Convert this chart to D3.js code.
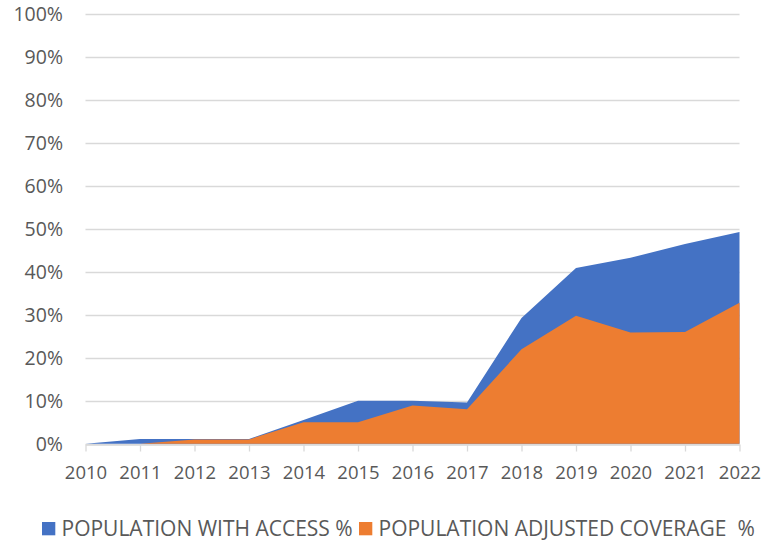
<!DOCTYPE html>
<html>
<head>
<meta charset="utf-8">
<script src="https://cdn.jsdelivr.net/npm/d3@7"></script>
<style>
    body { margin: 0; background: #fff; }
    svg text { font-family: "Open Sans", sans-serif; fill: #595959; }
</style>
</head>
<body>
<svg width="763" height="542"></svg>
<script>
var years = [2010, 2011, 2012, 2013, 2014, 2015, 2016, 2017, 2018, 2019, 2020, 2021, 2022];
var accessPct = [0, 1.1, 1.1, 1.1, 5.5, 10, 10, 9.6, 29.3, 40.9, 43.3, 46.5, 49.3];
var coveragePct = [0, 0, 1, 1, 5, 5, 8.9, 8, 22, 29.8, 25.9, 26, 32.8];
var yTicks = [0, 10, 20, 30, 40, 50, 60, 70, 80, 90, 100];
var seriesNames = ["POPULATION WITH ACCESS %", "POPULATION ADJUSTED COVERAGE\u00a0 %"];
var seriesColors = ["#4472C4", "#ED7D31"];

var svg = d3.select("svg");

var x = d3.scalePoint()
    .domain(years)
    .range([85.5, 739.5]);

var y = d3.scaleLinear()
    .domain([0, 100])
    .range([443.7, 14.3]);

// gridlines
svg.append("g")
    .selectAll("line")
    .data(yTicks)
    .enter()
    .append("line")
    .attr("x1", x.range()[0])
    .attr("x2", x.range()[1])
    .attr("y1", (d) => Math.round(y(d)) + 0.5)
    .attr("y2", (d) => Math.round(y(d)) + 0.5)
    .style("stroke", "#d9d9d9")
    .style("stroke-width", 1.3);

// y labels
svg.append("g")
    .selectAll("text")
    .data(yTicks)
    .enter()
    .append("text")
    .attr("x", 63)
    .attr("y", (d) => y(d))
    .attr("dy", "0.36em")
    .attr("text-anchor", "end")
    .style("font-size", "19.5px")
    .text((d) => d + "%");

var area = d3.area()
    .x((d, i) => x(years[i]))
    .y0(y(0))
    .y1((d) => y(d));

svg.append("path")
    .datum(accessPct)
    .attr("d", area)
    .style("fill", seriesColors[0]);

svg.append("path")
    .datum(coveragePct)
    .attr("d", area)
    .style("fill", seriesColors[1]);

// x axis
var xAxis = svg.append("g")
    .attr("transform", "translate(0," + (Math.round(y(0)) + 0.5) + ")")
    .call(d3.axisBottom(x).tickSize(7).tickPadding(14).tickSizeOuter(0));
xAxis.select(".domain").style("stroke", "#d9d9d9").style("stroke-width", 1.3);
xAxis.selectAll(".tick line").style("stroke", "#d9d9d9").style("stroke-width", 1.3);
xAxis.selectAll(".tick text")
    .style("font-size", "18.5px")
    .style("font-family", "Open Sans, sans-serif")
    .style("fill", "#595959");

// legend
var legendX = [42, 359];
var legend = svg.append("g")
    .selectAll("g")
    .data(seriesNames)
    .enter()
    .append("g")
    .attr("transform", (d, i) => "translate(" + legendX[i] + ",522)");

legend.append("rect")
    .attr("width", 13.3)
    .attr("height", 13.3)
    .style("fill", (d, i) => seriesColors[i]);

legend.append("text")
    .attr("x", 19.5)
    .attr("y", 14)
    .style("font-size", "21px")
    .text((d) => d);
</script>
</body>
</html>
